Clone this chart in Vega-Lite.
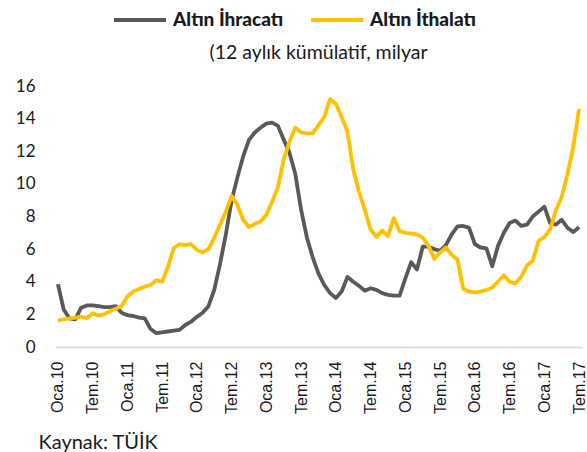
{
  "$schema": "https://vega.github.io/schema/vega-lite/v6.json",
  "autosize": "none",
  "width": 527,
  "height": 261,
  "padding": {"left": 55, "top": 86, "right": 5, "bottom": 105},
  "background": "white",
  "title": {
    "text": "(12 aylık kümülatif, milyar",
    "anchor": "middle",
    "frame": "group",
    "font": "Lato",
    "fontSize": 19.5,
    "fontWeight": "normal",
    "color": "#1a1a1a",
    "baseline": "middle",
    "offset": 0,
    "dy": 80
  },
  "data": {
    "values": [
      {"ay": "Oca.10", "ihr": 3.85, "ith": 1.62},
      {"ay": "Şub.10", "ihr": 2.3, "ith": 1.7},
      {"ay": "Mar.10", "ihr": 1.75, "ith": 1.75},
      {"ay": "Nis.10", "ihr": 1.7, "ith": 1.8},
      {"ay": "May.10", "ihr": 2.4, "ith": 1.86},
      {"ay": "Haz.10", "ihr": 2.55, "ith": 1.76},
      {"ay": "Tem.10", "ihr": 2.55, "ith": 2.07},
      {"ay": "Ağu.10", "ihr": 2.5, "ith": 1.92},
      {"ay": "Eyl.10", "ihr": 2.45, "ith": 2.0},
      {"ay": "Eki.10", "ihr": 2.45, "ith": 2.2},
      {"ay": "Kas.10", "ihr": 2.5, "ith": 2.35},
      {"ay": "Ara.10", "ihr": 2.1, "ith": 2.5},
      {"ay": "Oca.11", "ihr": 1.95, "ith": 3.1},
      {"ay": "Şub.11", "ihr": 1.9, "ith": 3.4},
      {"ay": "Mar.11", "ihr": 1.8, "ith": 3.55},
      {"ay": "Nis.11", "ihr": 1.75, "ith": 3.7},
      {"ay": "May.11", "ihr": 1.1, "ith": 3.8},
      {"ay": "Haz.11", "ihr": 0.85, "ith": 4.1},
      {"ay": "Tem.11", "ihr": 0.9, "ith": 4.0},
      {"ay": "Ağu.11", "ihr": 0.95, "ith": 4.9},
      {"ay": "Eyl.11", "ihr": 1.0, "ith": 6.05},
      {"ay": "Eki.11", "ihr": 1.05, "ith": 6.3},
      {"ay": "Kas.11", "ihr": 1.35, "ith": 6.25},
      {"ay": "Ara.11", "ihr": 1.55, "ith": 6.3},
      {"ay": "Oca.12", "ihr": 1.85, "ith": 5.95},
      {"ay": "Şub.12", "ihr": 2.1, "ith": 5.8},
      {"ay": "Mar.12", "ihr": 2.5, "ith": 6.0},
      {"ay": "Nis.12", "ihr": 3.5, "ith": 6.7},
      {"ay": "May.12", "ihr": 5.1, "ith": 7.5},
      {"ay": "Haz.12", "ihr": 6.9, "ith": 8.3},
      {"ay": "Tem.12", "ihr": 9.0, "ith": 9.25},
      {"ay": "Ağu.12", "ihr": 10.4, "ith": 8.7},
      {"ay": "Eyl.12", "ihr": 11.7, "ith": 7.8},
      {"ay": "Eki.12", "ihr": 12.7, "ith": 7.35},
      {"ay": "Kas.12", "ihr": 13.15, "ith": 7.55},
      {"ay": "Ara.12", "ihr": 13.45, "ith": 7.7},
      {"ay": "Oca.13", "ihr": 13.7, "ith": 8.1},
      {"ay": "Şub.13", "ihr": 13.75, "ith": 8.9},
      {"ay": "Mar.13", "ihr": 13.55, "ith": 9.8},
      {"ay": "Nis.13", "ihr": 12.7, "ith": 11.5},
      {"ay": "May.13", "ihr": 11.9, "ith": 12.6},
      {"ay": "Haz.13", "ihr": 10.6, "ith": 13.45},
      {"ay": "Tem.13", "ihr": 8.4, "ith": 13.15},
      {"ay": "Ağu.13", "ihr": 6.7, "ith": 13.1},
      {"ay": "Eyl.13", "ihr": 5.5, "ith": 13.1},
      {"ay": "Eki.13", "ihr": 4.5, "ith": 13.6},
      {"ay": "Kas.13", "ihr": 3.8, "ith": 14.1},
      {"ay": "Ara.13", "ihr": 3.3, "ith": 15.2},
      {"ay": "Oca.14", "ihr": 3.0, "ith": 14.9},
      {"ay": "Şub.14", "ihr": 3.4, "ith": 14.1},
      {"ay": "Mar.14", "ihr": 4.3, "ith": 13.2},
      {"ay": "Nis.14", "ihr": 4.0, "ith": 10.9},
      {"ay": "May.14", "ihr": 3.75, "ith": 9.5},
      {"ay": "Haz.14", "ihr": 3.45, "ith": 8.4},
      {"ay": "Tem.14", "ihr": 3.6, "ith": 7.2},
      {"ay": "Ağu.14", "ihr": 3.5, "ith": 6.75},
      {"ay": "Eyl.14", "ihr": 3.3, "ith": 7.14},
      {"ay": "Eki.14", "ihr": 3.2, "ith": 6.8},
      {"ay": "Kas.14", "ihr": 3.15, "ith": 7.9},
      {"ay": "Ara.14", "ihr": 3.15, "ith": 7.1},
      {"ay": "Oca.15", "ihr": 4.2, "ith": 7.0},
      {"ay": "Şub.15", "ihr": 5.2, "ith": 6.95},
      {"ay": "Mar.15", "ihr": 4.75, "ith": 6.9},
      {"ay": "Nis.15", "ihr": 6.15, "ith": 6.7},
      {"ay": "May.15", "ihr": 6.15, "ith": 6.2},
      {"ay": "Haz.15", "ihr": 6.0, "ith": 5.4},
      {"ay": "Tem.15", "ihr": 5.9, "ith": 5.8},
      {"ay": "Ağu.15", "ihr": 6.25, "ith": 6.1},
      {"ay": "Eyl.15", "ihr": 6.9, "ith": 5.65},
      {"ay": "Eki.15", "ihr": 7.4, "ith": 5.35},
      {"ay": "Kas.15", "ihr": 7.42, "ith": 3.55},
      {"ay": "Ara.15", "ihr": 7.3, "ith": 3.4},
      {"ay": "Oca.16", "ihr": 6.3, "ith": 3.35},
      {"ay": "Şub.16", "ihr": 6.1, "ith": 3.4},
      {"ay": "Mar.16", "ihr": 6.05, "ith": 3.5},
      {"ay": "Nis.16", "ihr": 4.95, "ith": 3.65},
      {"ay": "May.16", "ihr": 6.2, "ith": 4.0},
      {"ay": "Haz.16", "ihr": 7.0, "ith": 4.4},
      {"ay": "Tem.16", "ihr": 7.6, "ith": 4.0},
      {"ay": "Ağu.16", "ihr": 7.75, "ith": 3.9},
      {"ay": "Eyl.16", "ihr": 7.42, "ith": 4.3},
      {"ay": "Eki.16", "ihr": 7.5, "ith": 5.0},
      {"ay": "Kas.16", "ihr": 8.0, "ith": 5.3},
      {"ay": "Ara.16", "ihr": 8.3, "ith": 6.5},
      {"ay": "Oca.17", "ihr": 8.6, "ith": 6.75},
      {"ay": "Şub.17", "ihr": 7.6, "ith": 7.2},
      {"ay": "Mar.17", "ihr": 7.5, "ith": 8.4},
      {"ay": "Nis.17", "ihr": 7.8, "ith": 9.2},
      {"ay": "May.17", "ihr": 7.3, "ith": 10.6},
      {"ay": "Haz.17", "ihr": 7.05, "ith": 12.3},
      {"ay": "Tem.17", "ihr": 7.35, "ith": 14.6}
    ]
  },
  "transform": [
    {"fold": ["ihr", "ith"], "as": ["key", "deger"]},
    {"lookup": "key", "from": {"data": {"values": [
      {"key": "ihr", "seri": "Altın İhracatı"},
      {"key": "ith", "seri": "Altın İthalatı"}
    ]}, "key": "key", "fields": ["seri"]}}
  ],
  "mark": {"type": "line", "strokeWidth": 3.8, "strokeJoin": "round", "strokeCap": "butt"},
  "encoding": {
    "x": {
      "field": "ay",
      "type": "ordinal",
      "sort": null,
      "scale": {"type": "point", "padding": 0.5},
      "axis": {
        "title": "Kaynak: TÜİK",
        "titleFont": "Lato",
        "titleFontSize": 20,
        "titleFontWeight": "normal",
        "titleColor": "#1a1a1a",
        "titleAnchor": "start",
        "titleAlign": "left",
        "titleBaseline": "middle",
        "titleX": -17,
        "titleY": 95,
        "labelExpr": "(indexof(datum.value, 'Oca') == 0 || indexof(datum.value, 'Tem') == 0) ? datum.value : ''",
        "labelAngle": -90,
        "labelAlign": "right",
        "labelBaseline": "middle",
        "labelPadding": 14,
        "labelFont": "Liberation Sans",
        "labelFontSize": 16,
        "labelColor": "#1a1a1a",
        "labelOverlap": false,
        "labelBound": false,
        "ticks": false,
        "grid": false,
        "domainColor": "#d9d9d9",
        "domainWidth": 1.5
      }
    },
    "y": {
      "field": "deger",
      "type": "quantitative",
      "scale": {"domain": [0, 16], "nice": false, "zero": true},
      "axis": {
        "title": null,
        "values": [0, 2, 4, 6, 8, 10, 12, 14, 16],
        "labelFont": "Lato",
        "labelFontSize": 17,
        "labelColor": "#1a1a1a",
        "labelPadding": 20,
        "ticks": false,
        "grid": false,
        "domain": false
      }
    },
    "color": {
      "field": "seri",
      "type": "nominal",
      "scale": {"domain": ["Altın İhracatı", "Altın İthalatı"], "range": ["#595959", "#FFC000"]},
      "legend": {
        "title": null,
        "orient": "none",
        "direction": "horizontal",
        "legendX": 57,
        "legendY": -94,
        "symbolType": "stroke",
        "symbolSize": 2700,
        "symbolStrokeWidth": 4,
        "labelFont": "Lato",
        "labelFontSize": 19,
        "labelFontWeight": 900,
        "labelColor": "#1a1a1a",
        "labelOffset": 5,
        "columnPadding": 19,
        "labelLimit": 300
      }
    }
  },
  "config": {"view": {"stroke": null}}
}
